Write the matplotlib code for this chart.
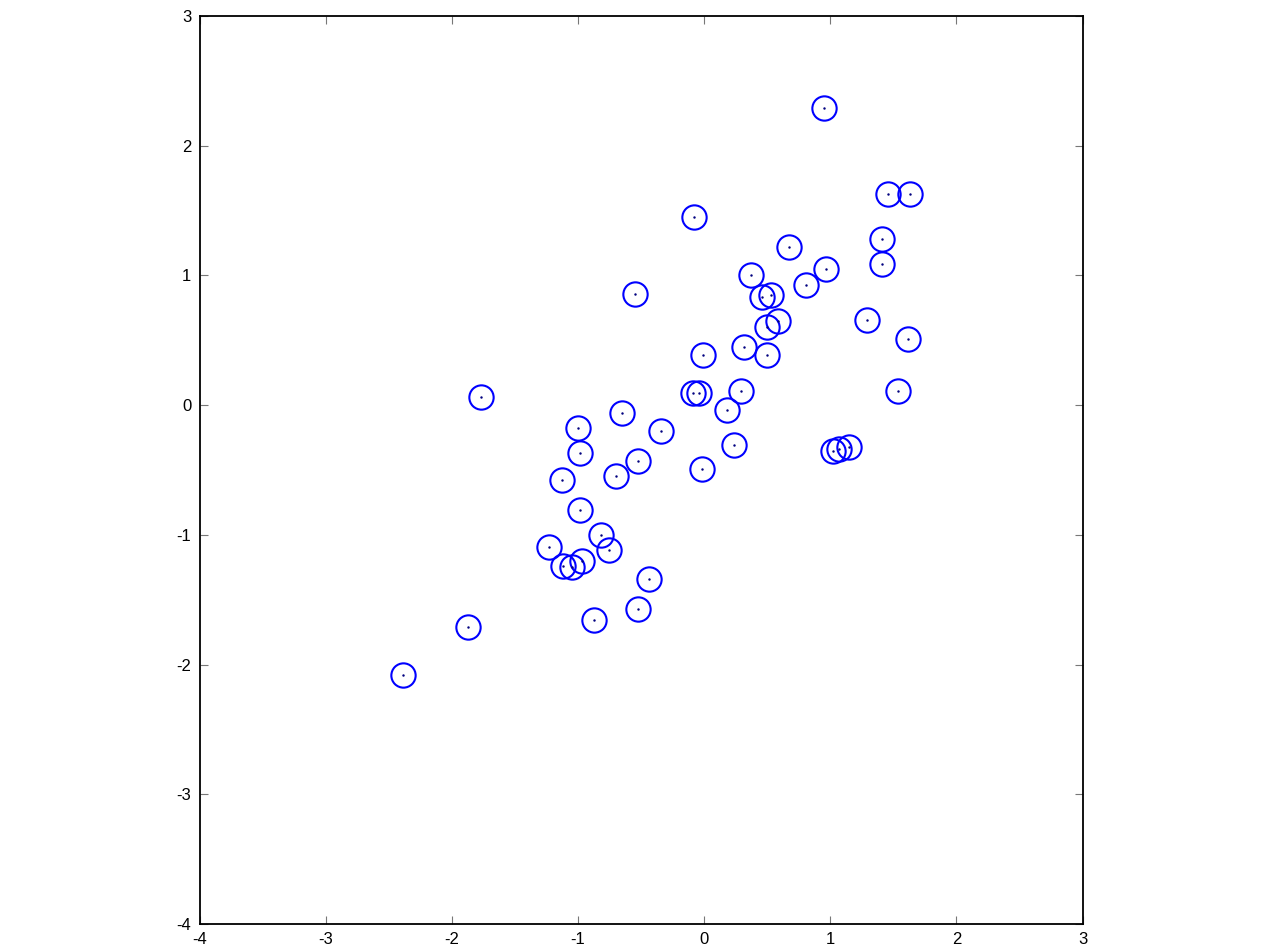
import matplotlib
matplotlib.use("Agg")
import matplotlib.pyplot as plt

x = [0.95, 1.46, 1.63, -0.08, 0.67, 1.41, 1.41, 0.97, 0.37, 0.81,
     0.46, 0.53, -0.55, 0.59, 0.50, 1.29, 1.62, 0.32, 0.50, -0.01,
     0.29, -0.09, -0.04, 1.54, -1.77, 0.18, -0.65, -1.00, -0.34, 0.24,
     1.15, 1.07, 1.02, -0.98, -0.52, -0.02, -0.70, -1.13, -0.98, -0.82,
     -1.23, -0.75, -0.97, -1.12, -1.05, -0.44, -0.52, -0.87, -1.87, -2.39]
y = [2.29, 1.63, 1.63, 1.45, 1.22, 1.28, 1.09, 1.05, 1.00, 0.93,
     0.83, 0.85, 0.86, 0.65, 0.60, 0.66, 0.51, 0.45, 0.39, 0.39,
     0.11, 0.09, 0.09, 0.11, 0.06, -0.04, -0.06, -0.18, -0.20, -0.31,
     -0.32, -0.34, -0.35, -0.37, -0.43, -0.49, -0.55, -0.58, -0.81, -1.00,
     -1.09, -1.12, -1.20, -1.24, -1.25, -1.34, -1.57, -1.66, -1.71, -2.08]

xticks = [-4, -3, -2, -1, 0, 1, 2, 3]
yticks = [-4, -3, -2, -1, 0, 1, 2, 3]

plt.rcParams['font.family'] = ['Liberation Sans', 'DejaVu Sans']
fig = plt.figure(figsize=(12.64, 9.52), dpi=100)
ax = fig.add_axes([199.5/1264, 28/952, 883/1264, 908/952])

ax.plot(x, y, 'o', markersize=17.5, markerfacecolor='none',
        markeredgecolor='#0000ff', markeredgewidth=1.5)
ax.plot(x, y, '.', markersize=1.5, color='#00007f')

ax.set_xlim(-4, 3)
ax.set_ylim(-4, 3)
ax.set_xticks(xticks)
ax.set_yticks(yticks)
ax.set_xticklabels([str(v) for v in xticks])
ax.set_yticklabels([str(v) for v in yticks])
ax.tick_params(direction='in', length=6, width=0.8, color='#777777',
               top=True, right=True, labelsize=12, pad=6)
for s in ax.spines.values():
    s.set_linewidth(1.3)

fig.savefig('out.png', dpi=100)
